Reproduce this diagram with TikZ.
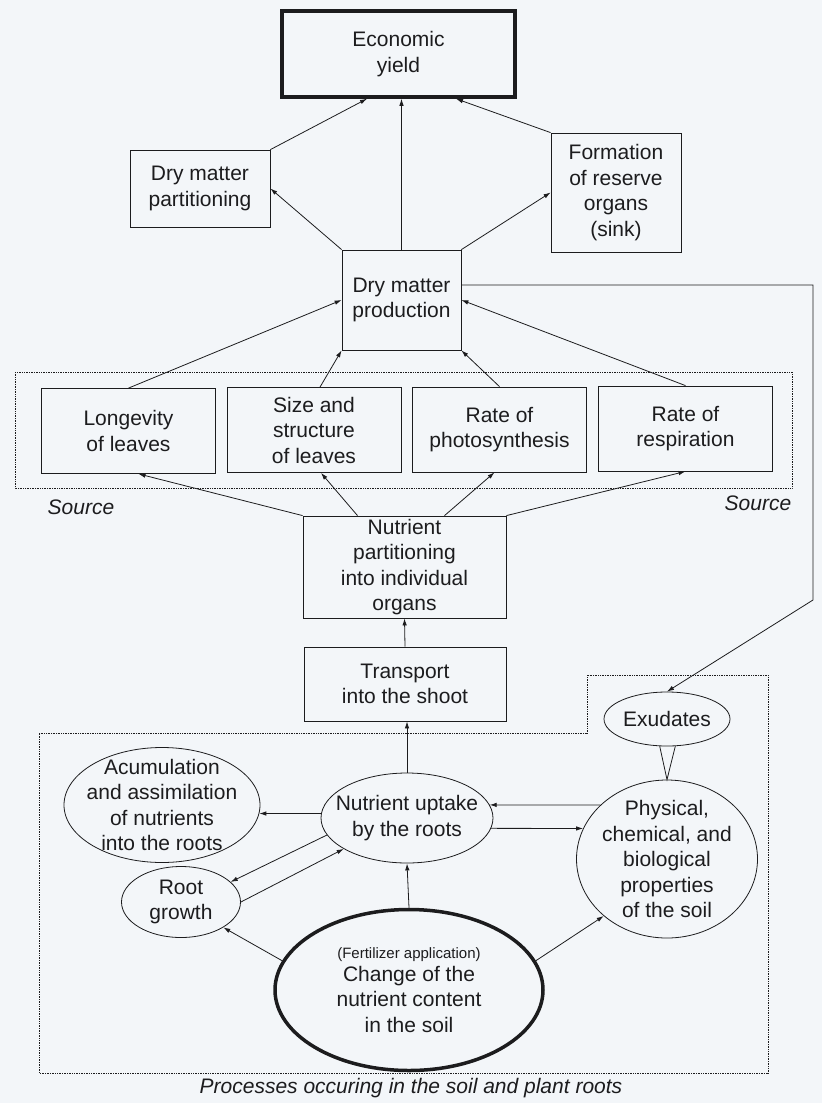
\documentclass[tikz,border=0pt]{standalone}
\usepackage{fontspec}
\setmainfont{Liberation Sans}
\usepackage{xcolor}
\usepackage{tikz}
\usetikzlibrary{shapes.geometric,arrows.meta}
\definecolor{ink}{RGB}{28,28,30}
\definecolor{paper}{RGB}{243,246,249}

\begin{document}
\begin{tikzpicture}[x=1pt, y=-1pt, >={Latex[length=7pt,width=4.5pt]},
  font=\fontsize{21}{25.5}\selectfont, color=ink, line width=0.8pt,
  box/.style={draw, align=center, inner xsep=2pt, inner ysep=0pt},
  leaf/.style={box, minimum width=174pt, minimum height=85pt},
  oval/.style={draw, ellipse, align=center, inner sep=-20pt},
  heavy/.style={line width=3.5pt},
  zone/.style={densely dotted, line width=0.7pt},
  lbl/.style={font=\fontsize{21}{25}\selectfont\itshape}]
\fill[paper] (0,0) rectangle (822,1103);
\useasboundingbox (0,0) rectangle (822,1103);
\node[box, heavy, minimum width=233pt, minimum height=86pt] (yield) at (398.5,54) {Economic\\yield};
\node[box, minimum width=140pt, minimum height=77pt] (part) at (200,188.5) {Dry matter\\partitioning};
\node[box, minimum width=130pt, minimum height=119pt] (sink) at (616,192.5) {Formation\\of reserve\\organs\\(sink)};
\node[box, minimum width=119pt, minimum height=100pt] (prod) at (401.5,300) {Dry matter\\production};
\node[leaf] (longev) at (128.5,431) {Longevity\\of leaves};
\node[leaf] (size) at (314,430) {Size and\\structure\\of leaves};
\node[leaf] (photo) at (499.5,429.5) {Rate of\\photosynthesis};
\node[leaf] (resp) at (685.5,428.5) {Rate of\\respiration};
\node[box, minimum width=203pt, minimum height=102pt] (npart) at (404.5,567) {Nutrient\\partitioning\\into individual\\organs};
\node[box, minimum width=202pt, minimum height=74pt] (transp) at (405,684) {Transport\\into the shoot};
\node[oval, minimum width=126pt, minimum height=54pt] (exud) at (667,719) {Exudates};
\node[oval, minimum width=196pt, minimum height=115pt] (accum) at (162,805) {Acumulation\\and assimilation\\of nutrients\\into the roots};
\node[oval, minimum width=172pt, minimum height=90pt] (uptake) at (407,818) {Nutrient uptake\\by the roots};
\node[oval, minimum width=181pt, minimum height=158pt] (phys) at (667,859) {Physical,\\chemical, and\\biological\\properties\\of the soil};
\node[oval, minimum width=119pt, minimum height=71pt] (root) at (181,902) {Root\\growth};
\node[oval, heavy, minimum width=268pt, minimum height=161pt] (change) at (409,990) {{\fontsize{15}{18}\selectfont(Fertilizer application)}\\[-3pt]Change of the\\nutrient content\\in the soil};
\node[lbl] (srcl) at (81,507) {Source};
\node[lbl] (srcr) at (758,503) {Source};
\node[lbl] (soilcap) at (411,1088) {Processes occuring in the soil and plant roots};
\coordinate (rt) at (813,285);
\coordinate (rb) at (813,600);
\draw[zone] (15,372) rectangle (792,488);
\draw[zone] (39,733) -- (587,733) -- (587,675) -- (768,675) -- (768,1073) -- (39,1073) -- cycle;
\draw[->] (prod.north west) -- (part.east);
\draw[->] (prod.north) -- (prod.north |- yield.south);
\draw[->] (prod.north east) -- (sink.west);
\draw[->] (part.north east) -- ([xshift=-31.5pt]yield.south);
\draw[->] (sink.north west) -- ([xshift=57.5pt]yield.south);
\draw[->] (longev.north) -- (prod.west);
\draw[->] ([xshift=6pt]size.north) -- (prod.south west);
\draw[->] (photo.north) -- (prod.south east);
\draw[->] (resp.north) -- (prod.east);
\draw[->] (npart.north west) -- ([xshift=10pt]longev.south);
\draw[->] ([xshift=-47pt]npart.north) -- ([xshift=7pt]size.south);
\draw[->] ([xshift=40pt]npart.north) -- ([xshift=-5pt]photo.south);
\draw[->] (npart.north east) -- (resp.south);
\draw[->] (transp.north) -- (npart.south);
\draw[->] ([yshift=15pt]prod.east) -- (rt) -- (rb) -- (exud.north);
\draw[->] (uptake.north) -- (uptake.north |- transp.south);
\draw[->] (uptake.177) -- (accum.-5);
\draw[->] (phys.141) -- (uptake.9);
\draw[->] (uptake.-7) -- (phys.160);
\draw[->] (uptake.192) -- (root.22);
\draw[->] (root.0) -- (uptake.206);
\draw[->] (change.north) -- (uptake.south);
\draw[->] (change.167) -- (root.-31);
\draw[->] (change.13) -- (phys.222);
\draw (exud.-105) -- (phys.north) -- (exud.-73);
\end{tikzpicture}
\end{document}
